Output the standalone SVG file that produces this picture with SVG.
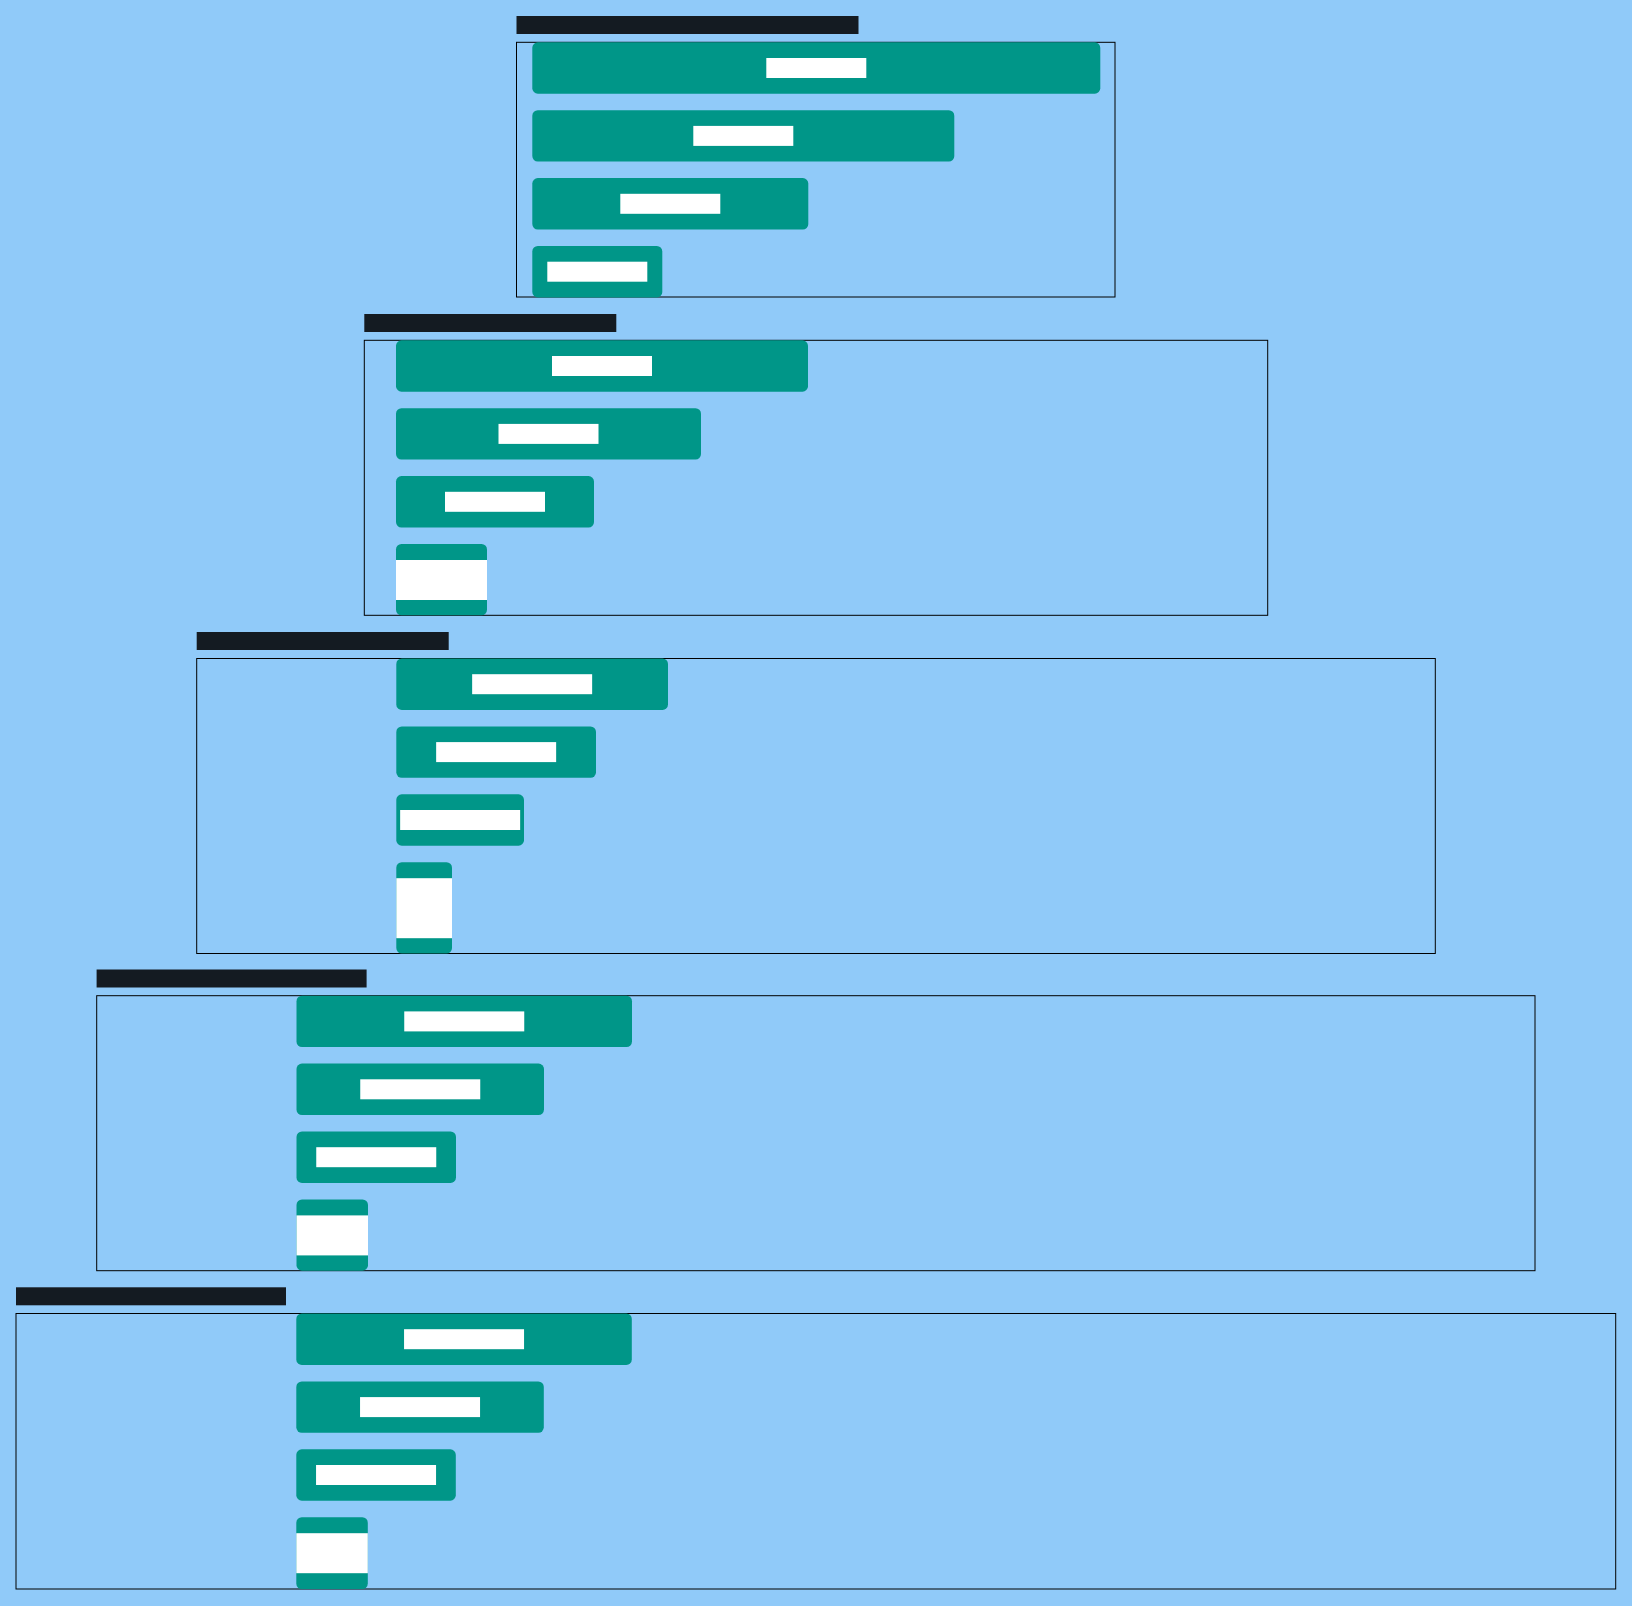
<svg xmlns="http://www.w3.org/2000/svg" width="1632" height="1606" viewBox="0 0 1632 1606">
<style>
.bg{fill:#90CAF9}
.title{fill:#141B22}
.frame{fill:none;stroke:#000000;stroke-width:1}
.node{fill:#009688}
.lbl{fill:#FFFFFF}
</style>
<rect class="bg" x="0" y="0" width="1632" height="1606"/>
<g id="cluster-1">
<rect class="title" x="516.5" y="16" width="342" height="18"/>
<rect class="frame" x="516.5" y="42.3" width="598.5" height="254.7"/>
</g>
<g id="cluster-2">
<rect class="title" x="364.3" y="314" width="252" height="18"/>
<rect class="frame" x="364.3" y="340.3" width="903.4" height="275"/>
</g>
<g id="cluster-3">
<rect class="title" x="196.7" y="632" width="252" height="18"/>
<rect class="frame" x="196.7" y="658.5" width="1238.6" height="295"/>
</g>
<g id="cluster-4">
<rect class="title" x="96.6" y="969.5" width="270" height="18"/>
<rect class="frame" x="96.7" y="995.7" width="1438.3" height="275"/>
</g>
<g id="cluster-5">
<rect class="title" x="16" y="1287.3" width="270" height="18"/>
<rect class="frame" x="16" y="1313.5" width="1599.7" height="275.5"/>
</g>
<g id="connectors"></g>
<g id="n1-1"><rect class="node" x="532.3" y="42.3" width="568" height="51.4" rx="5.5"/><rect class="lbl" x="766.3" y="58" width="100" height="20"/></g>
<g id="n1-2"><rect class="node" x="532.3" y="110.2" width="422" height="51.4" rx="5.5"/><rect class="lbl" x="693.3" y="125.9" width="100" height="20"/></g>
<g id="n1-3"><rect class="node" x="532.3" y="178.1" width="276" height="51.4" rx="5.5"/><rect class="lbl" x="620.3" y="193.8" width="100" height="20"/></g>
<g id="n1-4"><rect class="node" x="532.3" y="246" width="130" height="51.4" rx="5.5"/><rect class="lbl" x="547.3" y="261.7" width="100" height="20"/></g>
<g id="n2-1"><rect class="node" x="396" y="340.3" width="412" height="51.4" rx="5.5"/><rect class="lbl" x="552" y="356" width="100" height="20"/></g>
<g id="n2-2"><rect class="node" x="396" y="408.2" width="305" height="51.4" rx="5.5"/><rect class="lbl" x="498.5" y="423.9" width="100" height="20"/></g>
<g id="n2-3"><rect class="node" x="396" y="476.1" width="198" height="51.4" rx="5.5"/><rect class="lbl" x="445" y="491.8" width="100" height="20"/></g>
<g id="n2-4"><rect class="node" x="396" y="544" width="91" height="71.3" rx="5.5"/><rect class="lbl" x="396" y="560" width="91" height="40"/></g>
<g id="n3-1"><rect class="node" x="396.3" y="658.5" width="271.7" height="51.4" rx="5.5"/><rect class="lbl" x="472.15" y="674.2" width="120" height="20"/></g>
<g id="n3-2"><rect class="node" x="396.3" y="726.4" width="199.7" height="51.4" rx="5.5"/><rect class="lbl" x="436.15" y="742.1" width="120" height="20"/></g>
<g id="n3-3"><rect class="node" x="396.3" y="794.3" width="127.7" height="51.4" rx="5.5"/><rect class="lbl" x="400.15" y="810" width="120" height="20"/></g>
<g id="n3-4"><rect class="node" x="396.3" y="862.2" width="55.7" height="91.3" rx="5.5"/><rect class="lbl" x="396.3" y="878.2" width="55.7" height="60"/></g>
<g id="n4-1"><rect class="node" x="296.5" y="995.7" width="335.5" height="51.4" rx="5.5"/><rect class="lbl" x="404.25" y="1011.4" width="120" height="20"/></g>
<g id="n4-2"><rect class="node" x="296.5" y="1063.6" width="247.5" height="51.4" rx="5.5"/><rect class="lbl" x="360.25" y="1079.3" width="120" height="20"/></g>
<g id="n4-3"><rect class="node" x="296.5" y="1131.5" width="159.5" height="51.4" rx="5.5"/><rect class="lbl" x="316.25" y="1147.2" width="120" height="20"/></g>
<g id="n4-4"><rect class="node" x="296.5" y="1199.4" width="71.5" height="71.3" rx="5.5"/><rect class="lbl" x="296.5" y="1215.4" width="71.5" height="40"/></g>
<g id="n5-1"><rect class="node" x="296.3" y="1313.5" width="335.5" height="51.4" rx="5.5"/><rect class="lbl" x="404.05" y="1329.2" width="120" height="20"/></g>
<g id="n5-2"><rect class="node" x="296.3" y="1381.4" width="247.5" height="51.4" rx="5.5"/><rect class="lbl" x="360.05" y="1397.1" width="120" height="20"/></g>
<g id="n5-3"><rect class="node" x="296.3" y="1449.3" width="159.5" height="51.4" rx="5.5"/><rect class="lbl" x="316.05" y="1465" width="120" height="20"/></g>
<g id="n5-4"><rect class="node" x="296.3" y="1517.2" width="71.5" height="71.8" rx="5.5"/><rect class="lbl" x="296.3" y="1533.2" width="71.5" height="40"/></g>
</svg>
